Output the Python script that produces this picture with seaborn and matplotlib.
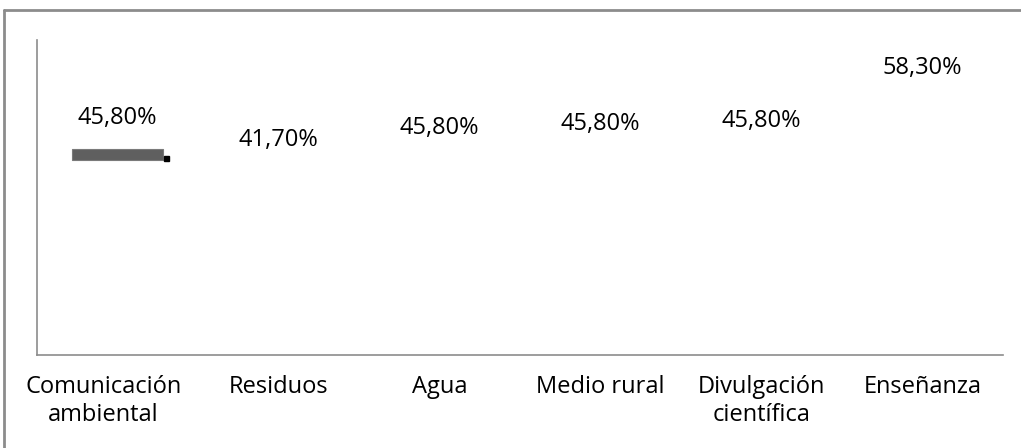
import numpy as np
import pandas as pd
import matplotlib
matplotlib.use("Agg")
import matplotlib.pyplot as plt
import matplotlib.transforms as mtransforms
import seaborn as sns
from matplotlib.lines import Line2D
from matplotlib.patches import Rectangle

# Datos
categorias = ["Comunicación\nambiental", "Residuos", "Agua", "Medio rural",
              "Divulgación\ncientífica", "Enseñanza"]
valores = [45.8, 41.7, 45.8, 45.8, 45.8, 58.3]
etiquetas = ["45,80%", "41,70%", "45,80%", "45,80%", "45,80%", "58,30%"]

df = pd.DataFrame({"categoria": categorias, "valor": valores})

sns.set_theme(style="white")
plt.rcParams["font.family"] = ["Open Sans", "DejaVu Sans"]

fig = plt.figure(figsize=(10.21, 4.48), dpi=100)
ax = fig.add_axes([0.0362, 0.2076, 0.9462, 0.7031])

# barras blancas (invisibles), como en el original
sns.barplot(data=df, x="categoria", y="valor", color="white", width=0.565,
            saturation=1, ax=ax)
ax.set_ylim(0, 70)
ax.set_xlim(-0.5, len(categorias) - 0.5)

# desplazamiento vertical de cada etiqueta (en puntos)
desp = [22.5, 19.9, 14.9, 17.6, 20.2, 18.0]
for p, txt, d in zip(ax.patches, etiquetas, desp):
    ax.annotate(txt, (p.get_x() + p.get_width() / 2, p.get_height()),
                xytext=(0, d), textcoords="offset points",
                ha="center", va="center", fontsize=17, color="black")

# marca gris sobre la primera barra
p0 = ax.patches[0]
ax.add_patch(Rectangle((p0.get_x(), p0.get_height() - 2.4), p0.get_width(), 2.4,
                       facecolor="#5f5f5f", edgecolor="#7a7a7a", lw=0.8, zorder=3))
ax.plot([p0.get_x() + p0.get_width() + 0.016], [p0.get_height() - 2.0],
        marker="s", ms=3.6, color="black", zorder=4)

ax.set_xlabel("")
ax.set_ylabel("")
ax.set_yticks([])
ax.tick_params(axis="x", length=0, pad=14.5, labelsize=17, colors="black")
for s in ["top", "right"]:
    ax.spines[s].set_visible(False)
for s in ["left", "bottom"]:
    ax.spines[s].set_color("#8c8c8c")
    ax.spines[s].set_linewidth(1.2)

# la primera etiqueta del eje aparece algo desplazada a la izquierda
lbl0 = ax.get_xticklabels()[0]
lbl0.set_transform(lbl0.get_transform() +
                   mtransforms.ScaledTranslation(-0.14, 0, fig.dpi_scale_trans))

# marco exterior del gráfico
fig.add_artist(Line2D([0.0039, 1.0], [0.9777, 0.9777], color="#8c8c8c", lw=2,
                      transform=fig.transFigure))
fig.add_artist(Line2D([0.0039, 0.0039], [0.0, 0.9777], color="#8c8c8c", lw=2,
                      transform=fig.transFigure))

fig.savefig("out.png", dpi=100)
